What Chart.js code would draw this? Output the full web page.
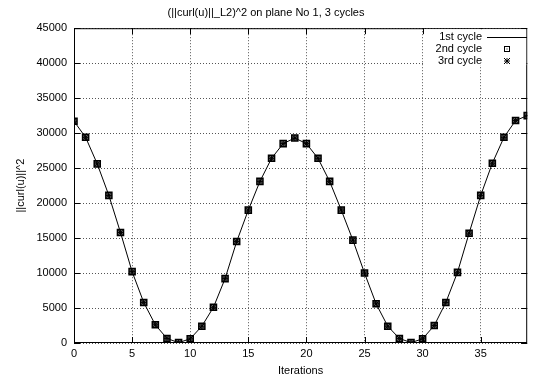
<!DOCTYPE html>
<html>
<head>
<meta charset="utf-8">
<script src="https://cdn.jsdelivr.net/npm/chart.js@4"></script>
<style>
  html, body { margin: 0; padding: 0; background: #fff; }
  #wrap { width: 533px; height: 378px; }
</style>
</head>
<body>
<div id="wrap"><canvas id="c" width="533" height="378"></canvas></div>
<script>
const iterations = [];
for (let i = 0; i <= 39; i++) iterations.push(i);

const cycle1 = [31700, 29400, 25600, 21100, 15800, 10200, 5800, 2600, 650, 50,
                600, 2400, 5100, 9200, 14500, 19000, 23100, 26400, 28500, 29300,
                28500, 26400, 23100, 19000, 14700, 10000, 5600, 2400, 650, 50,
                600, 2500, 5800, 10100, 15700, 21100, 25700, 29400, 31800, 32500];
const cycle2 = cycle1.slice();
const cycle3 = cycle1.slice();

const seriesNames = ["1st cycle", "2nd cycle", "3rd cycle"];
const yTicks = [0, 5000, 10000, 15000, 20000, 25000, 30000, 35000, 40000, 45000];
const xTicks = [0, 5, 10, 15, 20, 25, 30, 35];

const FONT = "'Liberation Sans', Arial, sans-serif";

function pts(arr) {
    return arr.map((v, i) => ({ x: iterations[i], y: v }));
}

// frame, inward tick marks and legend box drawn like gnuplot
const gnuplotFrame = {
    id: "gnuplotFrame",
    afterDraw(chart) {
        const ctx = chart.ctx;
        const a = chart.chartArea;
        const xs = chart.scales.x, ys = chart.scales.y;
        ctx.save();
        ctx.strokeStyle = "#000";
        ctx.lineWidth = 1;
        ctx.setLineDash([]);
        ctx.strokeRect(a.left + 0.5, a.top + 0.5, a.right - a.left - 1, a.bottom - a.top - 1);
        ctx.beginPath();
        xTicks.forEach(t => {
            const px = Math.round(xs.getPixelForValue(t)) + 0.5;
            ctx.moveTo(px, a.bottom); ctx.lineTo(px, a.bottom - 6);
            ctx.moveTo(px, a.top); ctx.lineTo(px, a.top + 6);
        });
        yTicks.forEach(t => {
            const py = Math.round(ys.getPixelForValue(t)) + 0.5;
            ctx.moveTo(a.left, py); ctx.lineTo(a.left + 6, py);
            ctx.moveTo(a.right, py); ctx.lineTo(a.right - 6, py);
        });
        ctx.stroke();

        // legend
        ctx.fillStyle = "#fff";
        ctx.fillRect(424, a.top + 1, a.right - 425, 36);
        ctx.fillStyle = "#000";
        ctx.font = "11px " + FONT;
        ctx.textAlign = "right";
        ctx.textBaseline = "middle";
        const rows = [37, 49, 61];
        seriesNames.forEach((n, i) => ctx.fillText(n, 482, rows[i]));
        ctx.beginPath();
        ctx.moveTo(487, rows[0] + 0.5); ctx.lineTo(527, rows[0] + 0.5);
        ctx.stroke();
        ctx.strokeRect(504.5, rows[1] - 2.5, 5, 5);
        ctx.fillRect(506.5, rows[1] - 0.5, 1, 1);
        ctx.beginPath();
        ctx.moveTo(504, rows[2] - 3); ctx.lineTo(510, rows[2] + 3);
        ctx.moveTo(510, rows[2] - 3); ctx.lineTo(504, rows[2] + 3);
        ctx.moveTo(507, rows[2] - 3); ctx.lineTo(507, rows[2] + 3);
        ctx.moveTo(504, rows[2]); ctx.lineTo(510, rows[2]);
        ctx.stroke();
        ctx.restore();
    }
};

new Chart(document.getElementById("c"), {
    type: "scatter",
    data: {
        datasets: [
            {
                label: seriesNames[0],
                data: pts(cycle1),
                showLine: true,
                borderColor: "#000",
                borderWidth: 1,
                pointRadius: 0,
                tension: 0
            },
            {
                label: seriesNames[1],
                data: pts(cycle2),
                showLine: false,
                pointStyle: "rect",
                pointRadius: 4.3,
                borderColor: "#000",
                borderWidth: 1.5,
                backgroundColor: "rgba(0,0,0,0.55)"
            },
            {
                label: seriesNames[2],
                data: pts(cycle3),
                showLine: false,
                pointStyle: "star",
                pointRadius: 3,
                borderColor: "#000",
                borderWidth: 1,
                backgroundColor: "rgba(0,0,0,0)"
            }
        ]
    },
    options: {
        responsive: false,
        animation: false,
        layout: { padding: { left: 0, right: 1, top: 0, bottom: 0 } },
        plugins: {
            legend: { display: false },
            tooltip: { enabled: false },
            title: {
                display: true,
                text: "(||curl(u)||_L2)^2 on plane No 1, 3 cycles",
                color: "#000",
                font: { family: FONT, size: 11, weight: "normal" },
                padding: { top: 6, bottom: 9 }
            }
        },
        scales: {
            x: {
                type: "linear",
                min: 0,
                max: 39,
                afterBuildTicks: s => { s.ticks = xTicks.map(v => ({ value: v })); },
                afterFit: s => { s.height = 35; },
                grid: { color: "#555", lineWidth: 1, drawTicks: false },
                border: { display: false, dash: [1, 2] },
                ticks: { color: "#000", padding: 4, maxRotation: 0, font: { family: FONT, size: 11 } },
                title: { display: true, text: "Iterations", color: "#000", padding: { top: 0, bottom: 0 },
                         font: { family: FONT, size: 11 } }
            },
            y: {
                min: 0,
                max: 45000,
                afterBuildTicks: s => { s.ticks = yTicks.map(v => ({ value: v })); },
                afterFit: s => { s.width = 74; },
                grid: { color: "#555", lineWidth: 1, drawTicks: false },
                border: { display: false, dash: [1, 2] },
                ticks: { color: "#000", padding: 7, font: { family: FONT, size: 11 },
                         callback: v => String(v) },
                title: { display: true, text: "||curl(u)||^2", color: "#000", padding: { top: 14, bottom: 0 },
                         font: { family: FONT, size: 11 } }
            }
        }
    },
    plugins: [gnuplotFrame]
});
</script>
</body>
</html>
